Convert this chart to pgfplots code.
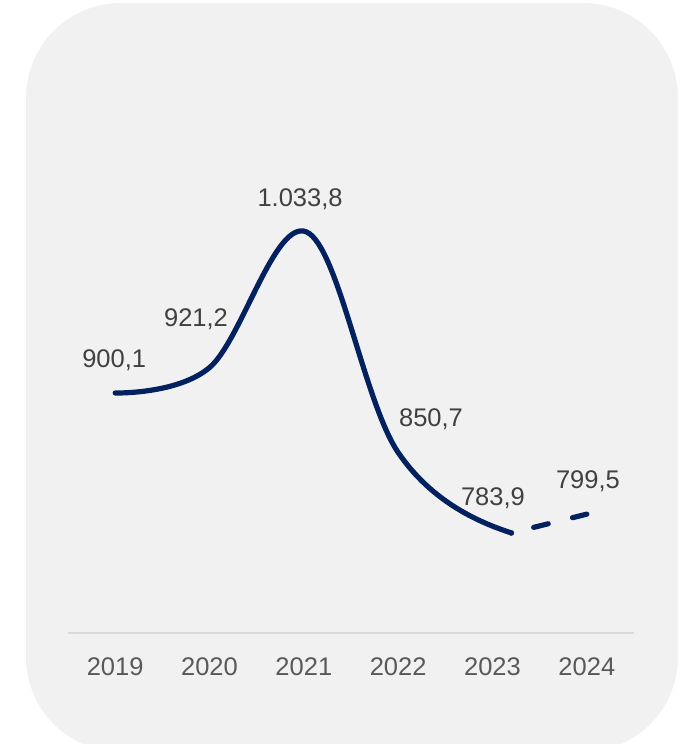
\documentclass[border=0pt]{standalone}
\usepackage{pgfplots}
\pgfplotsset{compat=1.18}
\usepackage{fontspec}
\setmainfont{Liberation Sans}
\definecolor{bgc}{HTML}{F1F1F1}
\definecolor{navy}{HTML}{03215F}
\definecolor{axc}{HTML}{D9D9D9}
\definecolor{lbl}{HTML}{404040}
\definecolor{tkl}{HTML}{595959}
\begin{document}
\begin{tikzpicture}[x=1pt,y=1pt]
\useasboundingbox (0,0) rectangle (690,744);
\clip (0,0) rectangle (690,744);
\fill[bgc, rounded corners=95pt] (26,-8) rectangle (678,741);
\begin{axis}[
  at={(68pt,111pt)}, anchor=south west,
  scale only axis, width=566pt, height=483pt,
  xmin=-0.5, xmax=5.5, ymin=700.8, ymax=1101.9,
  clip=false,
  axis x line=bottom, axis line style={draw=axc, line width=1.6pt, -},
  hide y axis,
  xtick={0,1,2,3,4,5},
  xticklabels={2019,2020,2021,2022,2023,2024},
  major tick length=0pt,
  xticklabel style={font=\fontsize{25.5}{30}\selectfont, text=tkl, yshift=-21pt},
]
\begin{scope}
\clip (axis cs:-1,600) rectangle (axis cs:4.2,1200);
\addplot[navy, line width=5.2pt, line cap=round, smooth, tension=0.6] coordinates {
  (0,900.1) (1,921.2) (2.03,1033.8) (3,850.7) (4.2,783.9) (5,799.5)
};
\end{scope}
\addplot[navy, only marks, mark=*, mark size=2.6pt] coordinates {(4.2,783.9)};
\addplot[navy, line width=5.2pt, line cap=round, dash pattern=on 15pt off 25pt, dash phase=17pt] coordinates {
  (4.2,783.9) (5,799.5)
};
\begin{scope}[every node/.style={font=\fontsize{25.5}{30}\selectfont, text=lbl, anchor=center}]
\node at (axis cs:-0.01,927.5) {900,1};
\node at (axis cs:0.857,961.6) {921,2};
\node at (axis cs:1.96,1061.2) {1.033,8};
\node at (axis cs:3.348,878.5) {850,7};
\node at (axis cs:4.005,812.9) {783,9};
\node at (axis cs:5.012,827.0) {799,5};
\end{scope}
\end{axis}
\end{tikzpicture}
\end{document}
